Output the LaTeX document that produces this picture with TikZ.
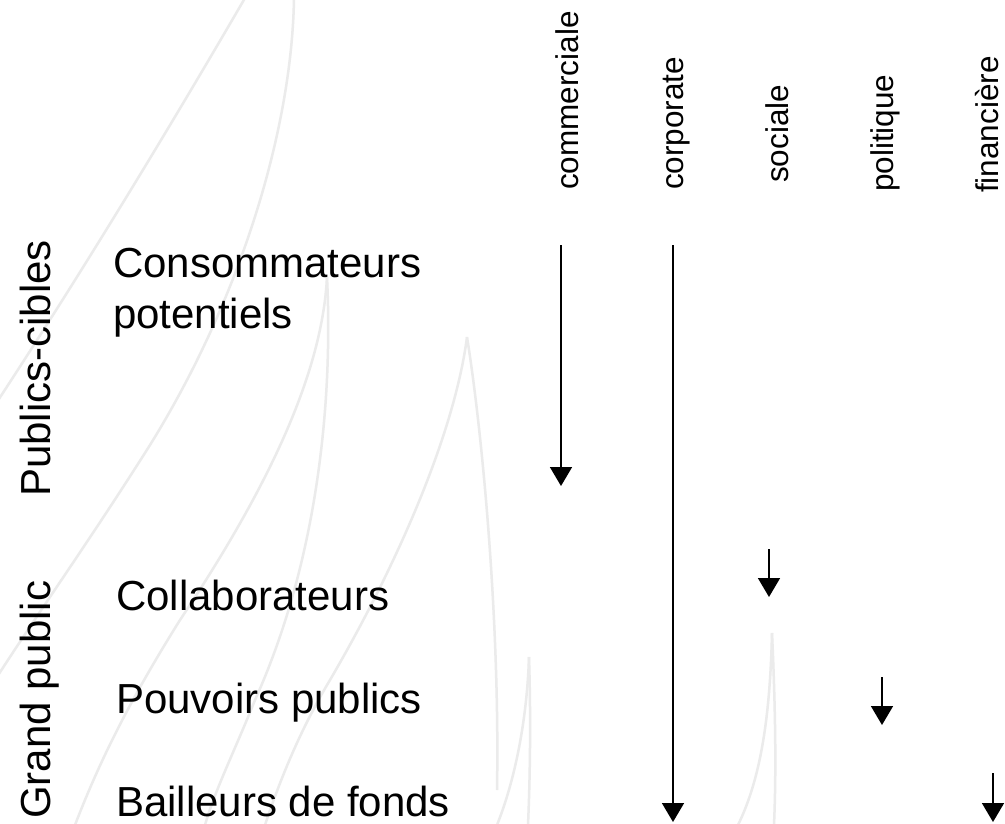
\documentclass[tikz,border=0pt]{standalone}
\usepackage{fontspec}
\setmainfont{Liberation Sans}
\usetikzlibrary{arrows.meta}
\begin{document}
\begin{tikzpicture}[x=1pt,y=-1pt,
  rowlab/.style={anchor=base west, inner sep=0pt, font=\fontsize{42}{50}\selectfont},
  grplab/.style={rotate=90, anchor=base west, inner sep=0pt, font=\fontsize{42}{50}\selectfont},
  collab/.style={rotate=90, anchor=base west, inner sep=0pt, font=\fontsize{31.5}{36}\selectfont},
  flow/.style={line width=1.7pt, -{Triangle[width=22pt,length=19pt]}},
  bgcurve/.style={draw=black!8, line width=2.5pt}]
\useasboundingbox (0,0) rectangle (1005,823);
\fill[white] (0,0) rectangle (1005,823);
% faint background curves
\draw[bgcurve] (245,-2) .. controls (180,110) and (90,260) .. (-5,405);
\draw[bgcurve] (294,-2) .. controls (292,130) and (240,300) .. (150,445) .. controls (90,540) and (40,610) .. (-5,680);
\draw[bgcurve] (327,277) .. controls (322,380) and (260,500) .. (180,620) .. controls (130,700) and (100,760) .. (75,825);
\draw[bgcurve] (327,277) .. controls (333,400) and (318,560) .. (255,700) .. controls (235,750) and (215,790) .. (205,825);
\draw[bgcurve] (467,337) .. controls (455,430) and (400,560) .. (330,680) .. controls (300,730) and (280,780) .. (265,825);
\draw[bgcurve] (467,337) .. controls (482,430) and (500,620) .. (497,790);
\draw[bgcurve] (529,657) .. controls (527,720) and (515,780) .. (497,825);
\draw[bgcurve] (529,657) .. controls (531,720) and (530,780) .. (528,825);
\draw[bgcurve] (772,633) .. controls (770,720) and (760,780) .. (738,825);
\draw[bgcurve] (772,633) .. controls (776,720) and (776,780) .. (774,825);
% group labels
\node[grplab] (pc) at (50,497) {Publics-cibles};
\node[grplab] (gp) at (50,819) {Grand public};
% row labels
\node[rowlab] (cons1) at (113,277) {Consommateurs};
\node[rowlab] (cons2) at (113,328) {potentiels};
\node[rowlab] (coll) at (116,610) {Collaborateurs};
\node[rowlab] (pouv) at (116,713) {Pouvoirs publics};
\node[rowlab] (bail) at (116,816) {Bailleurs de fonds};
% column labels
\node[collab] (com) at (578,190) {commerciale};
\node[collab] (cor) at (683,190) {corporate};
\node[collab] (soc) at (788,183) {sociale};
\node[collab] (pol) at (893,192) {politique};
\node[collab] (fin) at (998,193) {financière};
% arrows
\coordinate (comS) at (561,245); \coordinate (comE) at (561,486);
\coordinate (corS) at (673,245); \coordinate (corE) at (673,822);
\coordinate (socS) at (769,549); \coordinate (socE) at (769,597);
\coordinate (polS) at (882,677); \coordinate (polE) at (882,725);
\coordinate (finS) at (993,773); \coordinate (finE) at (993,822);
\draw[flow] (comS) -- (comE);
\draw[flow] (corS) -- (corE);
\draw[flow] (socS) -- (socE);
\draw[flow] (polS) -- (polE);
\draw[flow] (finS) -- (finE);
\end{tikzpicture}
\end{document}
